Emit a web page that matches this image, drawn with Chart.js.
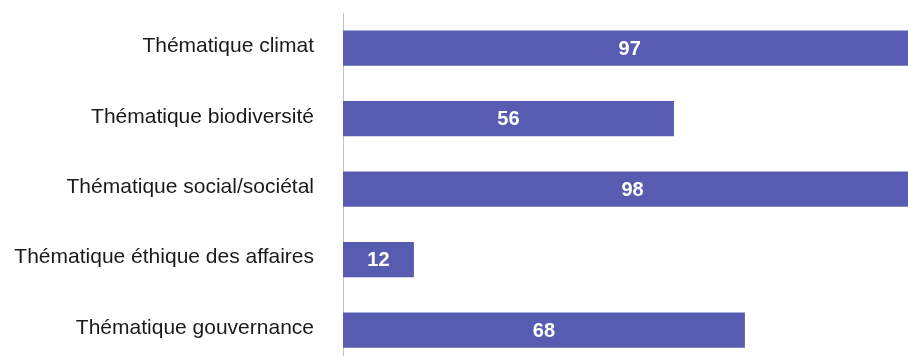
<!DOCTYPE html>
<html>
<head>
<meta charset="utf-8">
<script src="https://cdn.jsdelivr.net/npm/chart.js@4/dist/chart.umd.min.js"></script>
<style>
  html, body { margin: 0; padding: 0; overflow: hidden; background: #fff; width: 908px; height: 356px; }
  #wrap { position: absolute; left: 0; top: 0; width: 934px; height: 378px; }
</style>
</head>
<body>
<div id="wrap"><canvas id="c"></canvas></div>
<script>
const categories = [
  "Thématique climat",
  "Thématique biodiversité",
  "Thématique social/sociétal",
  "Thématique éthique des affaires",
  "Thématique gouvernance"
];
const values = [97, 56, 98, 12, 68];
const axisMax = 100;

const barLabels = {
  id: 'barLabels',
  afterDatasetsDraw(chart) {
    const ctx = chart.ctx;
    const meta = chart.getDatasetMeta(0);
    ctx.save();
    ctx.fillStyle = '#ffffff';
    ctx.font = 'bold 20px "Liberation Sans", Arial, sans-serif';
    ctx.textAlign = 'center';
    ctx.textBaseline = 'middle';
    meta.data.forEach((bar, i) => {
      const cx = (bar.x + bar.base) / 2;
      ctx.fillText(String(values[i]), cx, bar.y + 1);
    });
    ctx.restore();
  }
};

new Chart(document.getElementById('c'), {
  type: 'bar',
  data: {
    labels: categories,
    datasets: [{
      data: values,
      backgroundColor: '#575cb0',
      borderWidth: 0,
      barPercentage: 0.5,
      categoryPercentage: 1.0
    }]
  },
  options: {
    indexAxis: 'y',
    responsive: true,
    maintainAspectRatio: false,
    animation: false,
    layout: { padding: { top: 13, right: 0, bottom: 0, left: 0 } },
    plugins: { legend: { display: false }, tooltip: { enabled: false } },
    scales: {
      x: {
        display: false,
        min: 0,
        max: axisMax
      },
      y: {
        afterFit(scale) { scale.width = 343; },
        grid: { display: true, color: 'rgba(0,0,0,0)', drawTicks: true, tickLength: 29, tickColor: 'rgba(0,0,0,0)' },
        border: { display: true, color: '#c0c0c0', width: 1 },
        ticks: {
          color: '#1a1a1a',
          padding: 0,
          labelOffset: -2,
          font: { family: '"Liberation Sans", Arial, sans-serif', size: 21 }
        }
      }
    }
  },
  plugins: [barLabels]
});
</script>
</body>
</html>
